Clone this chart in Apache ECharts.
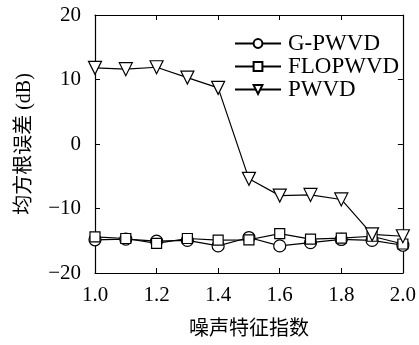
<!DOCTYPE html>
<html>
<head>
<meta charset="utf-8">
<script src="https://cdn.jsdelivr.net/npm/echarts@6/dist/echarts.min.js"></script>
<style>
html, body { margin: 0; padding: 0; background: #fff; }
#chart { width: 419px; height: 345px; }
</style>
</head>
<body>
<div id="chart"></div>
<script>
// 横轴: 噪声特征指数
const alphas = [1.0, 1.1, 1.2, 1.3, 1.4, 1.5, 1.6, 1.7, 1.8, 1.9, 2.0]
const names = ['G-PWVD', 'FLOPWVD', 'PWVD']
// 均方根误差 (dB)
const gpwvd = [-14.85, -14.75, -15.05, -14.95, -15.8, -14.5, -15.8, -15.3, -14.8, -14.95, -15.7]
const flopwvd = [-14.4, -14.65, -15.4, -14.65, -14.9, -14.85, -13.9, -14.75, -14.6, -14.3, -15.5]
const pwvd = [11.8, 11.6, 11.9, 10.3, 8.7, -5.4, -8.0, -7.9, -8.6, -14.0, -14.3]

const serif = 'Liberation Serif, Noto Sans CJK SC'
const chart = echarts.init(document.getElementById('chart'))

const pair = (ys) => alphas.map((x, i) => [x, ys[i]])
const minus = (v) => (v < 0 ? '\u2212' + (-v) : String(v))

const mkSeries = (name, ys, symbol, size, rotate) => ({
    name,
    type: 'line',
    data: pair(ys),
    symbol,
    symbolSize: size,
    symbolRotate: rotate,
    showAllSymbol: true,
    lineStyle: { color: '#000', width: 1.2 },
    itemStyle: { color: '#fff', borderColor: '#000', borderWidth: 1.2 },
    emphasis: { disabled: true }
})

const option = {
    animation: false,
    textStyle: { fontFamily: serif },
    grid: { left: 95, right: 14, top: 15, bottom: 71 },
    legend: {
        data: names,
        orient: 'vertical',
        left: 234,
        top: 32,
        padding: 0,
        itemGap: 0,
        itemWidth: 46,
        itemHeight: 11,
        textStyle: { fontFamily: serif, fontSize: 23, lineHeight: 20, color: '#000', padding: [0, 0, 0, 2] }
    },
    xAxis: [
        {
            type: 'value', min: 1.0, max: 2.0, interval: 0.2,
            name: '噪声特征指数', nameLocation: 'middle', nameGap: 47,
            nameTextStyle: { fontSize: 20, color: '#000', fontFamily: serif },
            axisLine: { onZero: false, lineStyle: { color: '#000', width: 1.2 } },
            axisTick: { inside: true, length: 5, lineStyle: { color: '#000' } },
            axisLabel: { fontSize: 21, color: '#000', margin: 12, formatter: (v) => v.toFixed(1) },
            splitLine: { show: false }
        },
        {
            type: 'value', min: 1.0, max: 2.0, interval: 0.2, position: 'top',
            axisLine: { onZero: false, lineStyle: { color: '#000', width: 1.2 } },
            axisTick: { inside: true, length: 5, lineStyle: { color: '#000' } },
            axisLabel: { show: false },
            splitLine: { show: false }
        }
    ],
    yAxis: [
        {
            type: 'value', min: -20, max: 20, interval: 10,
            name: '均方根误差 (dB)', nameLocation: 'middle', nameGap: 60, nameRotate: 90,
            nameTextStyle: { fontSize: 20, color: '#000', fontFamily: serif },
            axisLine: { show: true, onZero: false, lineStyle: { color: '#000', width: 1.2 } },
            axisTick: { show: true, inside: true, length: 5, lineStyle: { color: '#000' } },
            axisLabel: { fontSize: 21, color: '#000', margin: 14, formatter: minus },
            splitLine: { show: false }
        },
        {
            type: 'value', min: -20, max: 20, interval: 10, position: 'right',
            axisLine: { show: true, onZero: false, lineStyle: { color: '#000', width: 1.2 } },
            axisTick: { show: true, inside: true, length: 5, lineStyle: { color: '#000' } },
            axisLabel: { show: false },
            splitLine: { show: false }
        }
    ],
    series: [
        mkSeries(names[0], gpwvd, 'circle', 12, 0),
        mkSeries(names[1], flopwvd, 'rect', 10, 0),
        mkSeries(names[2], pwvd, 'triangle', 13, 180)
    ]
}
chart.setOption(option)
</script>
</body>
</html>
